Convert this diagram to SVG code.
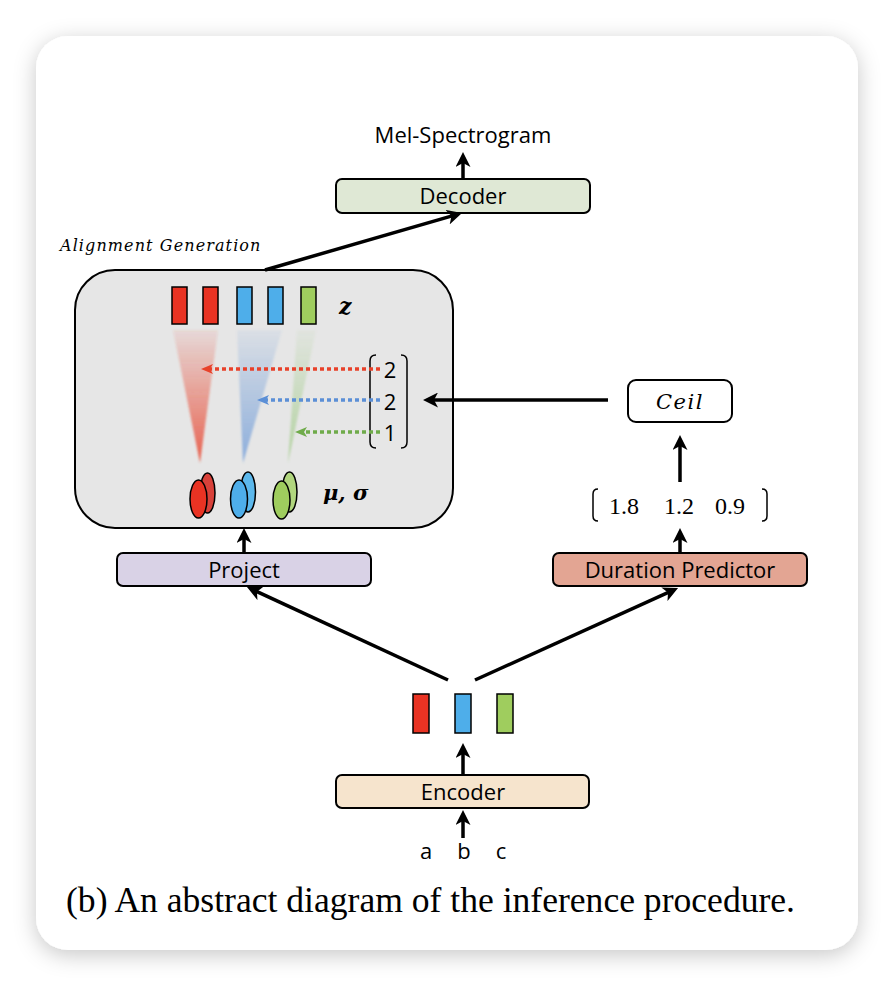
<svg xmlns="http://www.w3.org/2000/svg" width="894" height="986" viewBox="0 0 894 986">
<defs>
  <filter id="shadow" x="-10%" y="-10%" width="120%" height="120%">
    <feDropShadow dx="0" dy="5" stdDeviation="11" flood-color="#000" flood-opacity="0.22"/>
  </filter>
  <filter id="soft" x="-20%" y="-5%" width="140%" height="110%">
    <feGaussianBlur stdDeviation="1.2"/>
  </filter>
  <marker id="ah" viewBox="0 0 15 15" refX="11" refY="7.5" markerWidth="15" markerHeight="15" markerUnits="userSpaceOnUse" orient="auto">
    <path d="M0,0 L15,7.5 L0,15 L4,7.5 z" fill="#000"/>
  </marker>
  <marker id="ahR" viewBox="0 0 12 10" refX="3" refY="5" markerWidth="12" markerHeight="10" markerUnits="userSpaceOnUse" orient="auto">
    <path d="M0,0 L12,5 L0,10 L3,5 z" fill="#e8412a"/>
  </marker>
  <marker id="ahB" viewBox="0 0 12 10" refX="3" refY="5" markerWidth="12" markerHeight="10" markerUnits="userSpaceOnUse" orient="auto">
    <path d="M0,0 L12,5 L0,10 L3,5 z" fill="#5b8fd6"/>
  </marker>
  <marker id="ahG" viewBox="0 0 12 10" refX="3" refY="5" markerWidth="12" markerHeight="10" markerUnits="userSpaceOnUse" orient="auto">
    <path d="M0,0 L12,5 L0,10 L3,5 z" fill="#6fab4a"/>
  </marker>
  <linearGradient id="gR" x1="0" y1="0" x2="0" y2="1">
    <stop offset="0" stop-color="#e8412a" stop-opacity="0.08"/>
    <stop offset="1" stop-color="#e8412a" stop-opacity="0.8"/>
  </linearGradient>
  <linearGradient id="gB" x1="0" y1="0" x2="0" y2="1">
    <stop offset="0" stop-color="#5b8fd6" stop-opacity="0.08"/>
    <stop offset="1" stop-color="#5b8fd6" stop-opacity="0.65"/>
  </linearGradient>
  <linearGradient id="gG" x1="0" y1="0" x2="0" y2="1">
    <stop offset="0" stop-color="#7fbf5a" stop-opacity="0.05"/>
    <stop offset="1" stop-color="#7fbf5a" stop-opacity="0.5"/>
  </linearGradient>
  <style>
    .box { stroke:#000; stroke-width:2; }
    .lbl { font-family:"Open Sans","Noto Sans","Liberation Sans",sans-serif; font-size:22px; fill:#000; text-anchor:middle; }
    .math { font-family:"DejaVu Serif","Liberation Serif",serif; font-style:italic; fill:#000; }
    .num { font-family:"Liberation Serif","DejaVu Serif",serif; font-size:24px; fill:#000; }
    .conn { stroke:#000; stroke-width:3.5; fill:none; }
    .bar { stroke:#000; stroke-width:1.5; }
    .dot { stroke-width:3.5; stroke-dasharray:4 3; fill:none; }
    .brk { stroke:#000; stroke-width:1.5; fill:none; }
  </style>
</defs>

<rect x="0" y="0" width="894" height="986" fill="#ffffff"/>
<rect x="36" y="36" width="822" height="914" rx="32" ry="32" fill="#ffffff" filter="url(#shadow)"/>

<g id="mel-label">
  <text class="lbl" x="463" y="143">Mel-Spectrogram</text>
</g>

<g id="decoder">
  <rect class="box" x="336" y="179" width="254" height="34" rx="6" fill="#dfe8d5"/>
  <text class="lbl" x="463" y="204">Decoder</text>
</g>

<g id="alignment-generation">
  <text class="math" x="60" y="251" font-size="16" letter-spacing="1.1">Alignment Generation</text>
  <rect class="box" x="75" y="270" width="378" height="258" rx="40" fill="#e6e6e6"/>
  <g id="cones" filter="url(#soft)">
    <polygon points="173,330 218,330 200,463" fill="url(#gR)"/>
    <polygon points="237,330 282,330 243,463" fill="url(#gB)"/>
    <polygon points="297,330 316,330 288,463" fill="url(#gG)"/>
  </g>
  <g id="z-bars">
    <rect class="bar" x="172" y="287" width="15" height="37" fill="#e93323"/>
    <rect class="bar" x="203" y="287" width="15" height="37" fill="#e93323"/>
    <rect class="bar" x="237" y="287" width="15" height="37" fill="#4eaeea"/>
    <rect class="bar" x="268" y="287" width="15" height="37" fill="#4eaeea"/>
    <rect class="bar" x="301" y="287" width="15" height="37" fill="#9fcd5e"/>
  </g>
  <text class="math" x="339" y="314" font-size="22" font-weight="bold">z</text>
  <g id="mu-sigma">
    <ellipse class="bar" cx="207.5" cy="493" rx="7.5" ry="20" fill="#d8413a"/>
    <ellipse class="bar" cx="198.5" cy="499" rx="8.5" ry="19" fill="#e93323"/>
    <ellipse class="bar" cx="248" cy="492" rx="7.5" ry="20" fill="#5cb8ec"/>
    <ellipse class="bar" cx="239" cy="499" rx="8.5" ry="19" fill="#4eaeea"/>
    <ellipse class="bar" cx="289.5" cy="492" rx="7.5" ry="20" fill="#b1d67e"/>
    <ellipse class="bar" cx="281.5" cy="500" rx="8.5" ry="19" fill="#9fcd5e"/>
  </g>
  <text class="math" x="323" y="500" font-size="21" font-weight="bold">μ, σ</text>
  <g id="durations-int">
    <path class="brk" d="M376,355 Q370,355 370,361 L370,442 Q370,448 376,448"/>
    <path class="brk" d="M401,355 Q407,355 407,361 L407,442 Q407,448 401,448"/>
    <text class="lbl" x="390" y="378" font-size="21">2</text>
    <text class="lbl" x="390" y="410" font-size="21">2</text>
    <text class="lbl" x="390" y="441" font-size="21">1</text>
  </g>
  <line class="dot" x1="380" y1="369" x2="210" y2="369" stroke="#e8412a" marker-end="url(#ahR)"/>
  <line class="dot" x1="380" y1="400" x2="266" y2="400" stroke="#5b8fd6" marker-end="url(#ahB)"/>
  <line class="dot" x1="380" y1="432" x2="304" y2="432" stroke="#6fab4a" marker-end="url(#ahG)"/>
</g>

<g id="ceil">
  <rect class="box" x="628" y="380" width="104" height="42" rx="8" fill="#ffffff"/>
  <text class="math" x="680" y="409" font-size="21" text-anchor="middle" letter-spacing="1.5">Ceil</text>
</g>

<g id="durations">
  <path class="brk" d="M598,489 Q593,489 593,494 L593,516 Q593,521 598,521"/>
  <path class="brk" d="M762,489 Q767,489 767,494 L767,516 Q767,521 762,521"/>
  <text class="num" x="609" y="514">1.8</text>
  <text class="num" x="664" y="514">1.2</text>
  <text class="num" x="715" y="514">0.9</text>
</g>

<g id="project">
  <rect class="box" x="117" y="553" width="254" height="33" rx="6" fill="#d9d2e6"/>
  <text class="lbl" x="244" y="578">Project</text>
</g>

<g id="duration-predictor">
  <rect class="box" x="553" y="553" width="254" height="33" rx="6" fill="#e3a593"/>
  <text class="lbl" x="680" y="578">Duration Predictor</text>
</g>

<g id="encoder-output">
  <rect class="bar" x="413" y="694" width="16" height="39" fill="#e93323"/>
  <rect class="bar" x="455" y="694" width="16" height="39" fill="#4eaeea"/>
  <rect class="bar" x="497" y="694" width="16" height="39" fill="#9fcd5e"/>
</g>

<g id="encoder">
  <rect class="box" x="336" y="775" width="253" height="33" rx="6" fill="#f6e4cd"/>
  <text class="lbl" x="463" y="800">Encoder</text>
</g>

<g id="inputs">
  <text class="lbl" x="426" y="859" font-size="20">a</text>
  <text class="lbl" x="464" y="859" font-size="20">b</text>
  <text class="lbl" x="501" y="859" font-size="20">c</text>
</g>

<g id="connectors">
  <line class="conn" x1="463" y1="179" x2="463" y2="156" marker-end="url(#ah)"/>
  <line class="conn" x1="265" y1="270" x2="458.2" y2="214.1" marker-end="url(#ah)"/>
  <line class="conn" x1="608" y1="400" x2="427" y2="400" marker-end="url(#ah)"/>
  <line class="conn" x1="680" y1="482" x2="680" y2="439" marker-end="url(#ah)"/>
  <line class="conn" x1="680" y1="553" x2="680" y2="532" marker-end="url(#ah)"/>
  <line class="conn" x1="244" y1="553" x2="244" y2="532" marker-end="url(#ah)"/>
  <line class="conn" x1="448" y1="680" x2="250.6" y2="588.7" marker-end="url(#ah)"/>
  <line class="conn" x1="475" y1="680" x2="674.4" y2="589.7" marker-end="url(#ah)"/>
  <line class="conn" x1="463" y1="775" x2="463" y2="747" marker-end="url(#ah)"/>
  <line class="conn" x1="463" y1="838" x2="463" y2="814" marker-end="url(#ah)"/>
</g>

<text x="66" y="912" font-family="Liberation Serif, Times New Roman, serif" font-size="35" textLength="729" lengthAdjust="spacingAndGlyphs" fill="#000">(b) An abstract diagram of the inference procedure.</text>
</svg>
